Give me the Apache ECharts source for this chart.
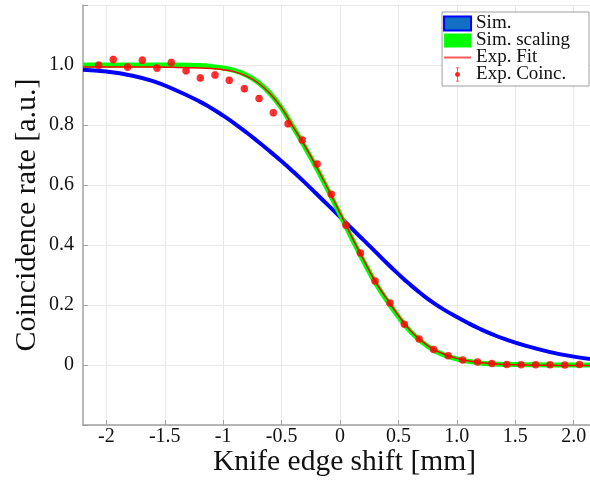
<!DOCTYPE html>
<html>
<head>
<meta charset="utf-8">
<script src="https://cdn.jsdelivr.net/npm/echarts@6/dist/echarts.min.js"></script>
<style>html,body{margin:0;padding:0;background:#fff;}#c{width:590px;height:489px;}</style>
</head>
<body>
<div id="c"></div>
<script>
// ---- data ----
var xTicks = [-2, -1.5, -1, -0.5, 0, 0.5, 1, 1.5, 2];
var xTickLabels = ['-2', '-1.5', '-1', '-0.5', '0', '0.5', '1.0', '1.5', '2.0'];
var yTickLabels = {'0': '0', '0.2': '0.2', '0.4': '0.4', '0.6': '0.6', '0.8': '0.8', '1': '1.0'};

var curveX = [-2.2,-2.0,-1.8,-1.6,-1.4,-1.2,-1.1,-1.0,-0.9,-0.8,-0.7,-0.6,-0.5,-0.4,-0.3,-0.2,-0.1,0,0.1,0.2,0.3,0.4,0.5,0.6,0.7,0.8,0.9,1.0,1.1,1.2,1.3,1.4,1.6,1.8,2.0,2.14];
var simY = [0.984,0.978,0.966,0.946,0.915,0.878,0.856,0.831,0.804,0.775,0.744,0.712,0.679,0.644,0.608,0.570,0.532,0.494,0.455,0.417,0.379,0.340,0.303,0.268,0.236,0.207,0.182,0.160,0.139,0.120,0.103,0.088,0.063,0.043,0.028,0.020];
var simScalingY = [1.0,1.0,1.0,1.0,1.0,0.998,0.995,0.990,0.981,0.966,0.942,0.906,0.856,0.792,0.726,0.656,0.580,0.502,0.423,0.347,0.276,0.216,0.161,0.113,0.077,0.050,0.032,0.020,0.012,0.007,0.004,0.002,0.001,0,0,0];
var expFitY = [0.993,0.993,0.993,0.993,0.992,0.990,0.988,0.984,0.977,0.963,0.940,0.905,0.857,0.793,0.730,0.660,0.585,0.507,0.428,0.352,0.280,0.221,0.165,0.116,0.080,0.052,0.035,0.022,0.013,0.008,0.004,0.002,0.0,-0.001,-0.002,-0.002];

var expX = [-2.066,-1.941,-1.818,-1.692,-1.567,-1.444,-1.318,-1.196,-1.070,-0.948,-0.819,-0.693,-0.571,-0.445,-0.323,-0.196,-0.074,0.051,0.175,0.300,0.428,0.551,0.677,0.802,0.926,1.050,1.177,1.300,1.427,1.550,1.675,1.798,1.924,2.050];
var expY = [0.999,1.018,0.993,1.016,0.990,1.008,0.981,0.957,0.967,0.949,0.921,0.888,0.841,0.804,0.750,0.670,0.569,0.466,0.373,0.280,0.207,0.136,0.087,0.052,0.031,0.017,0.010,0.005,0.002,0.001,0.001,0.001,0.000,0.002];
var expErr = [0.011,0.011,0.011,0.011,0.011,0.011,0.011,0.010,0.010,0.010,0.010,0.010,0.010,0.010,0.009,0.009,0.008,0.008,0.007,0.006,0.006,0.005,0.004,0.004,0.003,0.003,0.003,0.003,0.003,0.003,0.003,0.003,0.003,0.003];

function zip(xs, ys) { return xs.map(function (x, i) { return [x, ys[i]]; }); }

var FONT = 'Liberation Serif';
var chart = echarts.init(document.getElementById('c'), null, {renderer: 'canvas'});
var errData = expX.map(function (x, i) { return [x, expY[i], expErr[i]]; });

var option = {
  animation: false,
  backgroundColor: '#ffffff',
  grid: {left: 83, right: 0, top: 5, bottom: 64, containLabel: false},
  xAxis: {
    type: 'value', min: -2.2, max: 2.14,
    name: 'Knife edge shift [mm]', nameLocation: 'middle', nameGap: 22, nameMoveOverlap: false,
    nameTextStyle: {fontFamily: FONT, fontSize: 29.5, color: '#111', padding: [0, 0, 0, 16]},
    axisLine: {show: true, onZero: false, lineStyle: {color: '#a0a0a0', width: 1.5}},
    axisTick: {show: true, inside: true, length: 5, customValues: xTicks, lineStyle: {color: '#a0a0a0'}},
    axisLabel: {customValues: xTicks, margin: 2, fontFamily: FONT, fontSize: 20, color: '#111',
      formatter: function (v) { var i = xTicks.indexOf(Math.round(v * 10) / 10); return i >= 0 ? xTickLabels[i] : ''; }},
    splitLine: {show: true, lineStyle: {color: '#e8e8e8', width: 1}}
  },
  yAxis: {
    type: 'value', min: -0.2, max: 1.2, interval: 0.2,
    name: 'Coincidence rate [a.u.]', nameLocation: 'middle', nameGap: 41, nameMoveOverlap: false,
    nameTextStyle: {fontFamily: FONT, fontSize: 30, color: '#111'},
    axisLine: {show: true, onZero: false, lineStyle: {color: '#a0a0a0', width: 1.5}},
    axisTick: {show: true, inside: true, length: 5, lineStyle: {color: '#a0a0a0'}},
    axisLabel: {margin: 9, fontFamily: FONT, fontSize: 20, color: '#111',
      formatter: function (v) { var k = String(Math.round(v * 10) / 10); return yTickLabels.hasOwnProperty(k) ? yTickLabels[k] : ''; }},
    splitLine: {show: true, lineStyle: {color: '#e8e8e8', width: 1}}
  },
  legend: {
    orient: 'vertical', right: 1, top: 12,
    backgroundColor: '#ffffff', borderColor: '#a0a0a0', borderWidth: 1,
    padding: [2, 19, 2, 1], itemWidth: 27, itemHeight: 14, itemGap: -2,
    textStyle: {fontFamily: FONT, fontSize: 19, color: '#111'},
    data: [
      {name: 'Sim.', icon: 'rect', itemStyle: {color: '#1270c4', borderColor: '#0000ff', borderWidth: 2}},
      {name: 'Sim. scaling', icon: 'rect', itemStyle: {color: '#00ff00', borderWidth: 0}},
      {name: 'Exp. Fit', icon: 'path://M0,0H27V2H0Z', itemStyle: {color: '#f25a5a', borderWidth: 0}},
      {name: 'Exp. Coinc.', icon: 'path://M3.2,0H6.8V0.9H5.4V15.1H6.8V16H3.2V15.1H4.6V0.9H3.2Z M5,5.2A2.8,2.8 0 1,1 4.99,5.2Z', itemStyle: {color: '#ff2020', borderWidth: 0}}
    ]
  },
  series: [
    {name: 'Sim.', type: 'line', data: zip(curveX, simY), smooth: true, showSymbol: false, symbol: 'none',
      lineStyle: {color: '#0000ff', width: 4}, itemStyle: {color: '#0000ff'}, z: 2},
    {name: 'Sim. scaling', type: 'line', data: zip(curveX, simScalingY), smooth: 0.4, showSymbol: false, symbol: 'none',
      lineStyle: {color: '#00ff00', width: 5}, itemStyle: {color: '#00ff00'}, z: 3},
    {name: 'Exp. Fit', type: 'line', data: zip(curveX, expFitY), smooth: 0.4, showSymbol: false, symbol: 'none',
      lineStyle: {color: '#ff0000', width: 1.5}, itemStyle: {color: '#ff0000'}, z: 4},
    {name: 'Exp. Coinc.', type: 'custom', data: errData, z: 5,
      renderItem: function (params, api) {
        var x = api.value(0), y = api.value(1), e = api.value(2);
        var p1 = api.coord([x, y - e]), p2 = api.coord([x, y + e]);
        var st = {stroke: 'rgba(255,60,60,0.55)', lineWidth: 1};
        return {type: 'group', children: [
          {type: 'line', shape: {x1: p1[0], y1: p1[1], x2: p2[0], y2: p2[1]}, style: st},
          {type: 'line', shape: {x1: p1[0] - 2, y1: p1[1], x2: p1[0] + 2, y2: p1[1]}, style: st},
          {type: 'line', shape: {x1: p2[0] - 2, y1: p2[1], x2: p2[0] + 2, y2: p2[1]}, style: st}
        ]};
      }, itemStyle: {color: '#ff0000'}},
    {name: 'Exp. Coinc.', type: 'scatter', data: zip(expX, expY), symbol: 'circle', symbolSize: 7.5,
      itemStyle: {color: '#ff0000'}, z: 6}
  ]
};
chart.setOption(option);
</script>
</body>
</html>
